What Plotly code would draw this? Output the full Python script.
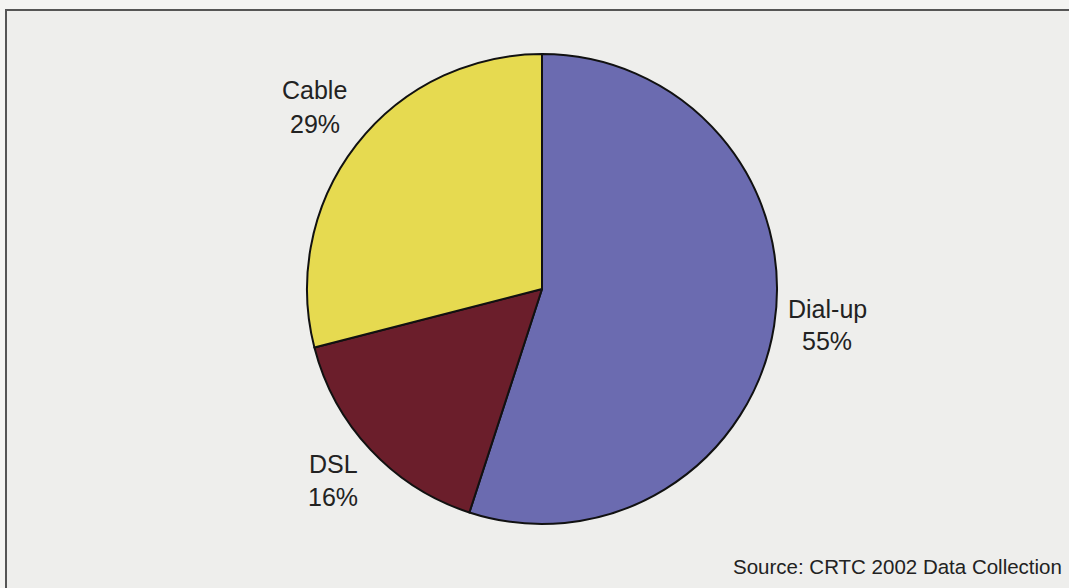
import plotly.graph_objects as go

W, H = 1069, 588

# Data
categories = ["Dial-up", "DSL", "Cable"]
shares = [55, 16, 29]
source_note = "Source: CRTC 2002 Data Collection"

colors = ["#6b6bb0", "#6b1e2b", "#e6da50"]

# Pie geometry (pixels)
cx, cy, r = 542, 289, 235

fig = go.Figure(go.Pie(
    labels=categories,
    values=shares,
    sort=False,
    direction="clockwise",
    rotation=0,
    textinfo="none",
    hoverinfo="label+percent",
    marker=dict(colors=colors, line=dict(color="#111111", width=2)),
    domain=dict(x=[(cx - r) / W, (cx + r) / W], y=[1 - (cy + r) / H, 1 - (cy - r) / H]),
    showlegend=False,
))

# label positions (pixel centers of the name line and the percent line)
label_pos = {
    "Dial-up": (827, 309, 341),
    "DSL": (333, 464, 497),
    "Cable": (315, 90, 124),
}

font = dict(family="Liberation Sans, Arial, sans-serif", size=25, color="#222222")
annotations = []
for name, val in zip(categories, shares):
    x, y1, y2 = label_pos[name]
    annotations.append(dict(x=x / W, y=1 - y1 / H, xref="paper", yref="paper",
                            text=name, showarrow=False, font=font,
                            xanchor="center", yanchor="middle"))
    annotations.append(dict(x=x / W, y=1 - y2 / H, xref="paper", yref="paper",
                            text=f"{val}%", showarrow=False, font=font,
                            xanchor="center", yanchor="middle"))

annotations.append(dict(x=1064 / W, y=1 - 566 / H, xref="paper", yref="paper",
                        text=source_note, showarrow=False,
                        font=dict(family="Liberation Sans, Arial, sans-serif", size=20.5, color="#222222"),
                        xanchor="right", yanchor="middle"))

fig.update_layout(
    width=W, height=H,
    margin=dict(l=0, r=0, t=0, b=0),
    paper_bgcolor="#f4f4f2",
    plot_bgcolor="#eeeeec",
    annotations=annotations,
    shapes=[dict(type="rect", xref="paper", yref="paper",
                 x0=6 / W, x1=1.02, y0=-0.02, y1=1 - 10 / H,
                 line=dict(color="#555555", width=2), fillcolor="#eeeeec", layer="below")],
)

fig.write_html("out.html", config={"displayModeBar": False},
               post_script="document.body.style.margin='0';document.body.style.overflow='hidden';")
